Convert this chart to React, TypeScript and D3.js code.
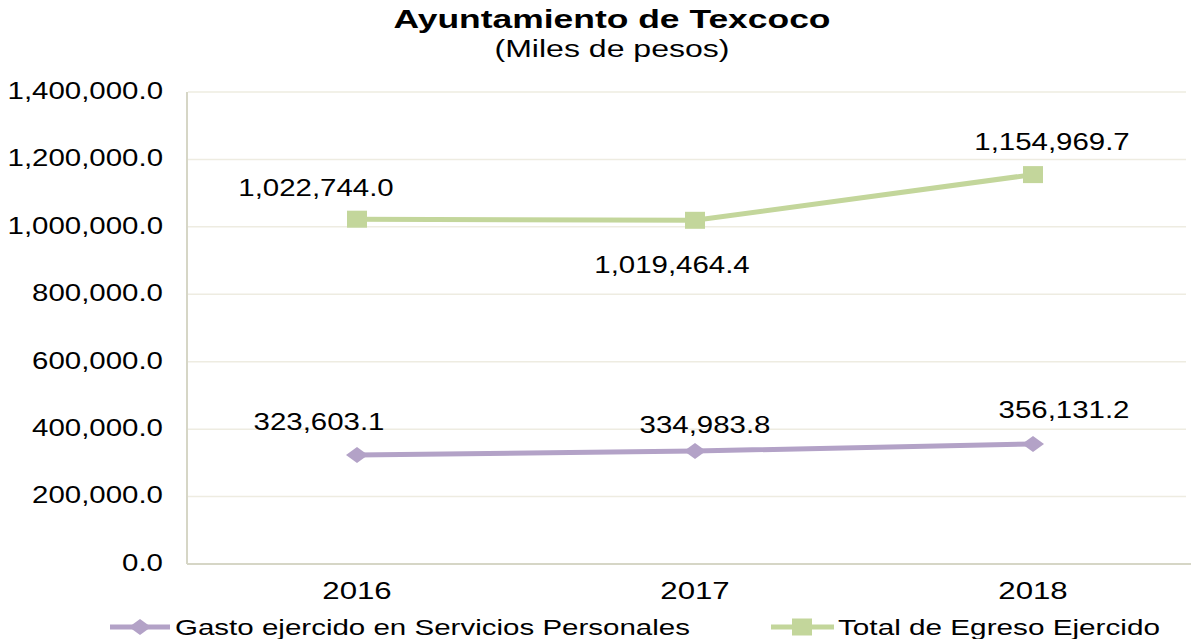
import * as d3 from "d3";

const years = ["2016", "2017", "2018"];
const gastoServicios = [323603.1, 334983.8, 356131.2];
const totalEgreso = [1022744.0, 1019464.4, 1154969.7];
const yTicks = [0, 200000, 400000, 600000, 800000, 1000000, 1200000, 1400000];
const seriesNames = ["Gasto ejercido en Servicios Personales", "Total de Egreso Ejercido"];

const width = 1191;
const height = 639;
const margin = { top: 92, bottom: 75, left: 188, right: -11 };
const bottom = height - margin.bottom;

const FONT = "'Liberation Sans', Arial, sans-serif";
const PURPLE = "#b3a2c7";
const GREEN = "#c3d69b";

// hand-placed data label offsets, as in the original
const gastoOffsets = [[-38, -33], [10, -26], [31, -34]];
const totalOffsets = [[-41, -31], [-23, 45], [19, -32]];

const fmt = d3.format(",.1f");

const Label = ({ x, y, text, size = 23, sx = 1.28, anchor = "middle", weight = "normal" }: any) => (
  <g transform={`translate(${x},${y}) scale(${sx},1)`}>
    <text textAnchor={anchor} dominantBaseline="central" fontSize={size} fontWeight={weight} fontFamily={FONT} fill="#000">
      {text}
    </text>
  </g>
);

const Diamond = ({ x, y }: any) => (
  <path d={`M${x - 11},${y} L${x},${y - 8} L${x + 11},${y} L${x},${y + 8} Z`} fill={PURPLE} />
);
const Square = ({ x, y }: any) => <rect x={x - 10} y={y - 8.5} width={20} height={17} fill={GREEN} />;

export default function App() {
  const xScale = d3.scaleBand().domain(years).range([margin.left, width - margin.right]);
  const cx = (d: string) => (xScale(d) as number) + xScale.bandwidth() / 2;
  const yScale = d3.scaleLinear().domain([0, 1400000]).range([bottom, margin.top]);

  const line = d3
    .line<number>()
    .x((_, i) => cx(years[i]))
    .y((v) => yScale(v));

  return (
    <svg width={width} height={height} style={{ position: "absolute", left: 0, top: 0 }}>
      <rect width={width} height={height} fill="#fff" />
      <text x={612} y={28} textAnchor="middle" fontSize={25} fontWeight="bold" fontFamily={FONT} textLength={437} lengthAdjust="spacingAndGlyphs">
        Ayuntamiento de Texcoco
      </text>
      <text x={612} y={57} textAnchor="middle" fontSize={23} fontFamily={FONT} textLength={235} lengthAdjust="spacingAndGlyphs">
        (Miles de pesos)
      </text>

      <g className="grid">
        {yTicks.filter((t) => t > 0).map((t) => (
          <line key={t} x1={margin.left} x2={1186} y1={yScale(t)} y2={yScale(t)} stroke="#eeece1" strokeWidth={1.5} />
        ))}
      </g>
      <line x1={margin.left - 1} x2={margin.left - 1} y1={margin.top} y2={bottom} stroke="#d6d6c6" strokeWidth={2} />
      <line x1={margin.left - 1} x2={width} y1={bottom} y2={bottom} stroke="#d6d6c6" strokeWidth={2} />

      <g className="y-axis">
        {yTicks.map((t) => (
          <Label key={t} x={163} y={yScale(t) - 1} text={fmt(t)} anchor="end" />
        ))}
      </g>
      <g className="x-axis">
        {years.map((d) => (
          <Label key={d} x={cx(d)} y={591} text={d} size={24} sx={1.3} />
        ))}
      </g>

      <path d={line(gastoServicios) ?? ""} fill="none" stroke={PURPLE} strokeWidth={5} />
      <path d={line(totalEgreso) ?? ""} fill="none" stroke={GREEN} strokeWidth={5} />
      {gastoServicios.map((v, i) => (
        <Diamond key={i} x={cx(years[i])} y={yScale(v)} />
      ))}
      {totalEgreso.map((v, i) => (
        <Square key={i} x={cx(years[i])} y={yScale(v)} />
      ))}
      {gastoServicios.map((v, i) => (
        <Label key={i} x={cx(years[i]) + gastoOffsets[i][0]} y={yScale(v) + gastoOffsets[i][1]} text={fmt(v)} />
      ))}
      {totalEgreso.map((v, i) => (
        <Label key={i} x={cx(years[i]) + totalOffsets[i][0]} y={yScale(v) + totalOffsets[i][1]} text={fmt(v)} />
      ))}

      <g className="legend">
        <line x1={110} x2={170} y1={627} y2={627} stroke={PURPLE} strokeWidth={5} />
        <Diamond x={140} y={627} />
        <text x={175} y={627} dominantBaseline="central" fontSize={22} fontFamily={FONT} textLength={515} lengthAdjust="spacingAndGlyphs">
          {seriesNames[0]}
        </text>
        <line x1={771} x2={834} y1={627} y2={627} stroke={GREEN} strokeWidth={5} />
        <Square x={802} y={627} />
        <text x={838} y={627} dominantBaseline="central" fontSize={22} fontFamily={FONT} textLength={322} lengthAdjust="spacingAndGlyphs">
          {seriesNames[1]}
        </text>
      </g>
    </svg>
  );
}
